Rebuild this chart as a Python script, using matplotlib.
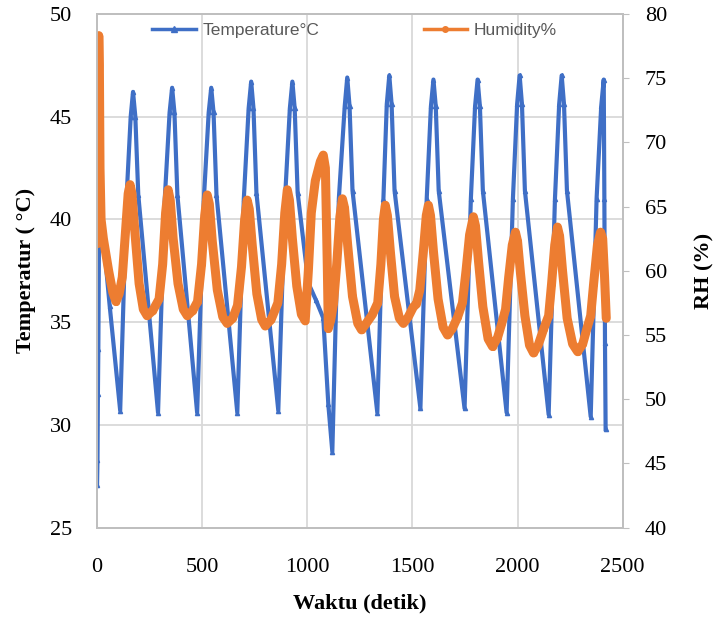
import matplotlib
matplotlib.use("Agg")
import matplotlib.pyplot as plt
from matplotlib.lines import Line2D

# waktu (detik) and temperature
temp_t = [0, 2, 4, 6, 9, 14, 60, 110,
          140, 160, 171, 182, 196, 290,
          322, 345, 357, 368, 382, 476,
          508, 531, 543, 554, 568, 667,
          698, 721, 733, 744, 758, 862,
          894, 917, 929, 940, 954, 1005, 1040, 1076, 1100, 1119,
          1150, 1178, 1190, 1201, 1215, 1333,
          1362, 1378, 1390, 1401, 1415, 1538,
          1568, 1588, 1600, 1611, 1625, 1748,
          1778, 1798, 1810, 1821, 1835, 1948,
          1978, 1998, 2010, 2021, 2035, 2148,
          2178, 2198, 2210, 2221, 2235, 2348,
          2376, 2398, 2410, 2413, 2416, 2419]
temp_v = [27.1, 28.3, 31.5, 33.7, 38.8, 40.8, 35.8, 30.7,
          41.0, 45.0, 46.2, 45.0, 41.2, 30.6,
          41.0, 45.2, 46.4, 45.2, 41.2, 30.6,
          41.0, 45.2, 46.4, 45.2, 41.2, 30.6,
          41.0, 45.4, 46.7, 45.4, 41.3, 30.7,
          41.0, 45.4, 46.7, 45.4, 41.3, 36.9, 36.1, 35.2, 31.0, 28.7,
          41.0, 45.5, 46.9, 45.5, 41.4, 30.6,
          41.0, 45.6, 47.0, 45.6, 41.4, 30.8,
          41.0, 45.5, 46.8, 45.5, 41.4, 30.8,
          41.0, 45.5, 46.8, 45.5, 41.4, 30.6,
          41.0, 45.6, 47.0, 45.6, 41.4, 30.5,
          41.0, 45.6, 47.0, 45.6, 41.4, 30.4,
          41.0, 45.5, 46.8, 41.0, 34.0, 29.8]

# humidity (RH %)
rh_t = [0, 2, 5, 8, 11, 14, 19, 30, 55, 75, 90, 105, 120, 135, 148, 157, 166, 180, 200, 220, 238,
        265, 295, 312, 326, 338, 348, 362, 385, 410, 429,
        455, 478, 497, 512, 524, 534, 548, 572, 598, 619,
        645, 668, 687, 702, 714, 724, 738, 760, 783, 800,
        828, 860, 878, 893, 905, 915, 929, 950, 972, 990,
        1005, 1019, 1038, 1062, 1076, 1086, 1095, 1100,
        1112, 1125, 1140, 1155, 1167, 1177, 1192, 1215, 1240, 1258,
        1280, 1310, 1335, 1350, 1362, 1371, 1381, 1395, 1415, 1438, 1457,
        1480, 1505, 1519, 1535, 1552, 1566, 1576, 1586, 1600, 1622, 1646, 1667,
        1690, 1715, 1738, 1755, 1772, 1790, 1800, 1814, 1835, 1860, 1881,
        1905, 1925, 1943, 1958, 1975, 1990, 2000, 2014, 2035, 2057, 2076,
        2098, 2125, 2148, 2162, 2177, 2190, 2200, 2214, 2236, 2262, 2286,
        2310, 2330, 2348, 2362, 2380, 2395, 2405, 2414, 2422]
rh_v = [62.1, 64.5, 72.0, 78.3, 76.0, 68.0, 64.0, 62.5, 60.0, 58.3, 57.6, 58.2, 59.5, 63.0, 66.0, 66.7, 66.0, 63.0, 59.0, 57.0, 56.5,
        56.9, 57.8, 60.5, 64.5, 66.3, 65.5, 62.5, 59.0, 57.0, 56.5,
        56.9, 57.6, 60.5, 64.3, 65.9, 65.2, 62.3, 58.5, 56.4, 55.9,
        56.3, 57.3, 60.3, 64.0, 65.5, 64.8, 62.0, 58.2, 56.2, 55.7,
        56.2, 57.5, 60.5, 64.5, 66.3, 65.5, 62.5, 58.8, 56.6, 56.1,
        60.0, 64.5, 67.0, 68.5, 69.0, 68.0, 60.5, 55.5,
        56.2, 57.5, 60.5, 64.2, 65.6, 64.9, 62.0, 58.0, 55.9, 55.4,
        55.9, 56.6, 57.5, 60.5, 64.0, 65.1, 64.3, 61.5, 58.0, 56.3, 55.9,
        56.4, 57.2, 57.4, 58.5, 61.5, 64.3, 65.1, 64.3, 61.5, 57.8, 55.6, 55.0,
        55.5, 56.4, 57.5, 60.0, 62.8, 64.2, 63.5, 60.8, 57.2, 54.7, 54.1,
        54.8, 55.9, 57.0, 59.5, 62.0, 63.0, 62.3, 59.8, 56.5, 54.2, 53.6,
        54.2, 55.5, 56.5, 59.0, 62.0, 63.4, 62.7, 60.0, 56.3, 54.3, 53.7,
        54.3, 55.5, 56.5, 59.0, 62.0, 63.0, 62.5, 59.5, 56.3]

x_ticks = [0, 500, 1000, 1500, 2000, 2500]
temp_ticks = [25, 30, 35, 40, 45, 50]
rh_ticks = [40, 45, 50, 55, 60, 65, 70, 75, 80]

BLUE = "#3f6fc6"
ORANGE = "#ed7d31"
GRID = "#d9d9d9"
SERIF = "Liberation Serif"


def main():
    fig = plt.figure(figsize=(7.19, 6.26), dpi=100)
    ax = fig.add_axes([0.135, 0.157, 0.731, 0.821])
    ax2 = ax.twinx()

    ax.plot(temp_t, temp_v, color=BLUE, lw=3.0, marker="^", ms=3)
    ax2.plot(rh_t, rh_v, color=ORANGE, lw=6.5, marker="o", ms=4,
             solid_joinstyle="round", solid_capstyle="round")

    ax.set_xlim(0, 2500)
    ax.set_ylim(25, 50)
    ax2.set_ylim(40, 80)
    ax.set_xticks(x_ticks)
    ax.set_yticks(temp_ticks)
    ax2.set_yticks(rh_ticks)

    ax.grid(True, color=GRID, lw=1.3)
    ax.set_axisbelow(True)
    for a in (ax, ax2):
        for s in a.spines.values():
            s.set_color("#bfbfbf")
            s.set_linewidth(1.3)

    ax.tick_params(axis="both", length=0, labelsize=16)
    ax.tick_params(axis="x", pad=22)
    ax.tick_params(axis="y", pad=18)
    ax2.tick_params(axis="y", length=4, color="#bfbfbf", labelsize=16, pad=12)
    for lab in ax.get_xticklabels() + ax.get_yticklabels() + ax2.get_yticklabels():
        lab.set_fontfamily(SERIF)

    ax.set_xlabel("Waktu (detik)", fontfamily=SERIF, fontweight="bold",
                  fontsize=16, labelpad=12)
    ax.set_ylabel("Temperatur ( °C)", fontfamily=SERIF, fontweight="bold",
                  fontsize=16, labelpad=10)
    ax2.set_ylabel("RH (%)", fontfamily=SERIF, fontweight="bold",
                   fontsize=16, labelpad=20)

    # thin legend keys like the original
    h1 = Line2D([], [], color=BLUE, lw=2.5, marker="^", ms=4)
    h2 = Line2D([], [], color=ORANGE, lw=2.5, marker="o", ms=4)
    leg = ax2.legend([h1, h2], ["Temperature°C", "Humidity%"], ncol=2,
                     loc="upper center", bbox_to_anchor=(0.49, 1.0),
                     frameon=False, handlelength=2.5, handletextpad=0.4,
                     columnspacing=6, borderaxespad=0.1,
                     prop={"family": "Liberation Sans", "size": 12.5})
    for t in leg.get_texts():
        t.set_color("#595959")

    fig.savefig("out.png", dpi=100)


if __name__ == "__main__":
    main()
